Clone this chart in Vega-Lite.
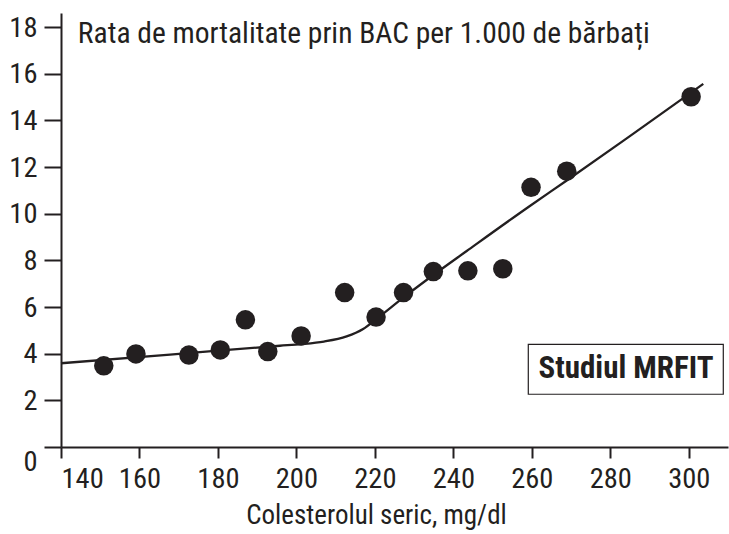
{
  "$schema": "https://vega.github.io/schema/vega-lite/v6.json",
  "width": 667,
  "height": 434,
  "autosize": {"type": "none"},
  "padding": {"left": 61, "top": 13, "right": 1, "bottom": 87},
  "background": "white",
  "config": {
    "view": {"stroke": null},
    "font": "Roboto Condensed, DejaVu Sans Condensed, Roboto",
    "axis": {
      "domainColor": "#231f20", "domainWidth": 2, "tickColor": "#231f20", "tickWidth": 2,
      "labelColor": "#231f20", "titleColor": "#231f20", "labelFont": "Roboto Condensed, DejaVu Sans Condensed, Roboto",
      "titleFont": "Roboto Condensed, DejaVu Sans Condensed, Roboto", "grid": false, "labelFontSize": 28.5, "titleFontWeight": "normal"
    }
  },
  "datasets": {
    "points": [
      {"chol": 150.9, "rate": 3.48},
      {"chol": 159.1, "rate": 3.99},
      {"chol": 172.6, "rate": 3.94},
      {"chol": 180.6, "rate": 4.16},
      {"chol": 187.0, "rate": 5.45},
      {"chol": 192.7, "rate": 4.09},
      {"chol": 201.2, "rate": 4.76},
      {"chol": 212.3, "rate": 6.62},
      {"chol": 220.3, "rate": 5.57},
      {"chol": 227.3, "rate": 6.62},
      {"chol": 234.9, "rate": 7.52},
      {"chol": 243.7, "rate": 7.55},
      {"chol": 252.6, "rate": 7.64},
      {"chol": 259.8, "rate": 11.13},
      {"chol": 268.9, "rate": 11.82},
      {"chol": 300.6, "rate": 15.01}
    ],
    "fit": [
      {"chol": 140, "rate": 3.59},
      {"chol": 167.8, "rate": 3.96},
      {"chol": 195.8, "rate": 4.34},
      {"chol": 201.3, "rate": 4.41},
      {"chol": 207, "rate": 4.52},
      {"chol": 212.8, "rate": 4.74},
      {"chol": 217, "rate": 5.06},
      {"chol": 220.5, "rate": 5.5},
      {"chol": 227.4, "rate": 6.42},
      {"chol": 234.9, "rate": 7.37},
      {"chol": 243.4, "rate": 8.4},
      {"chol": 259.5, "rate": 10.33},
      {"chol": 268.9, "rate": 11.42},
      {"chol": 285.8, "rate": 13.42},
      {"chol": 303.7, "rate": 15.56}
    ],
    "one": [{}]
  },
  "layer": [
    {
      "data": {"name": "fit"},
      "mark": {"type": "line", "interpolate": "monotone", "color": "#231f20", "strokeWidth": 2.3},
      "encoding": {
        "x": {"field": "chol", "type": "quantitative",
          "scale": {"domain": [140, 310], "nice": false, "zero": false},
          "axis": {"values": [140,160,180,200,220,240,260,280,300], "tickSize": 11, "labelPadding": 6,
            "title": "Colesterolul seric, mg/dl", "titleFontSize": 27, "titlePadding": 10, "titleX": 315}},
        "y": {"field": "rate", "type": "quantitative",
          "scale": {"domain": [0, 18.6], "nice": false},
          "axis": {"values": [0,2,4,6,8,10,12,14,16,18], "tickSize": 17, "labelPadding": 7, "title": null,
            "labelBaseline": {"condition": {"test": "datum.value === 0", "value": "top"}, "value": "middle"}}}
      }
    },
    {
      "data": {"name": "points"},
      "mark": {"type": "circle", "size": 380, "color": "#231f20", "opacity": 1},
      "encoding": {
        "x": {"field": "chol", "type": "quantitative"},
        "y": {"field": "rate", "type": "quantitative"}
      }
    },
    {
      "data": {"name": "one"},
      "mark": {"type": "text", "align": "left", "baseline": "alphabetic", "fontSize": 29.5, "color": "#231f20"},
      "encoding": {
        "x": {"datum": 144.3},
        "y": {"datum": 17.33},
        "text": {"value": "Rata de mortalitate prin BAC per 1.000 de bărbați"}
      }
    },
    {
      "data": {"name": "one"},
      "mark": {"type": "rect", "fill": "white", "stroke": "#231f20", "strokeWidth": 1.2},
      "encoding": {
        "x": {"datum": 259.1}, "x2": {"datum": 308.8},
        "y": {"datum": 4.4}, "y2": {"datum": 2.26}
      }
    },
    {
      "data": {"name": "one"},
      "mark": {"type": "text", "align": "center", "baseline": "middle", "fontSize": 31, "fontWeight": "bold", "color": "#231f20"},
      "encoding": {
        "x": {"datum": 284},
        "y": {"datum": 3.33},
        "text": {"value": "Studiul MRFIT"}
      }
    }
  ]
}
